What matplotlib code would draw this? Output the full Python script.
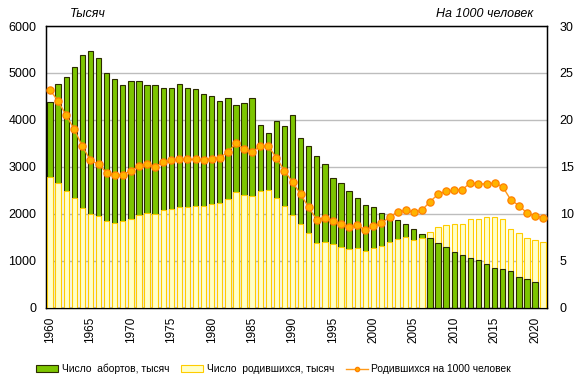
import numpy as np
import matplotlib
matplotlib.use("Agg")
import matplotlib.pyplot as plt
from matplotlib.patches import Patch
from matplotlib.lines import Line2D

plt.rcParams["font.family"] = ["Liberation Sans", "DejaVu Sans"]

years = list(range(1960, 2022))

# abortions, thousands (no value for 2021)
abortions = [4375, 4759, 4925, 5134, 5376, 5463, 5325, 5005, 4872, 4751,
             4838, 4837, 4748, 4735, 4674, 4671, 4757, 4690, 4652, 4544,
             4506, 4400, 4462, 4317, 4361, 4461, 3887, 3716, 3975, 3865,
             4103, 3608, 3437, 3244, 3061, 2766, 2652, 2498, 2346, 2181,
             2139, 2015, 1945, 1864, 1797, 1676, 1582, 1479, 1385, 1292,
             1186, 1124, 1064, 1012, 930, 848, 837, 779, 661, 621,
             553, np.nan]

# births, thousands
births = [2782, 2662, 2482, 2332, 2121, 1991, 1957, 1852, 1817, 1848,
          1904, 1974, 2015, 1995, 2079, 2107, 2146, 2157, 2179, 2178,
          2203, 2237, 2328, 2478, 2409, 2375, 2486, 2500, 2348, 2161,
          1989, 1795, 1588, 1379, 1408, 1364, 1305, 1260, 1283, 1215,
          1267, 1312, 1397, 1477, 1502, 1457, 1480, 1610, 1714, 1762,
          1789, 1797, 1902, 1896, 1943, 1940, 1889, 1690, 1604, 1485,
          1437, 1399]

# births per 1000 people
birth_rate = [23.2, 22.0, 20.5, 19.0, 17.2, 15.7, 15.3, 14.4, 14.1, 14.2,
              14.6, 15.1, 15.3, 15.0, 15.5, 15.7, 15.8, 15.8, 15.8, 15.7,
              15.9, 16.0, 16.6, 17.5, 16.9, 16.6, 17.2, 17.2, 16.0, 14.6,
              13.4, 12.1, 10.7, 9.4, 9.6, 9.3, 8.9, 8.6, 8.8, 8.3,
              8.7, 9.0, 9.7, 10.2, 10.4, 10.2, 10.4, 11.3, 12.1, 12.4,
              12.5, 12.6, 13.3, 13.2, 13.2, 13.3, 12.9, 11.5, 10.9, 10.1,
              9.8, 9.6]

green_face, green_edge = "#7DC500", "#2B2B00"
yellow_face, yellow_edge = "#FFFFC8", "#FFCC00"
line_col = "#FF9a1a"
width = 0.66

fig = plt.figure(figsize=(5.77, 3.91), dpi=100)
ax = fig.add_axes([0.0797, 0.2123, 0.8686, 0.7212])

# smaller bar of each year goes in front
for yr, a, b in zip(years, abortions, births):
    z_a, z_b = (2, 3) if (np.isnan(a) or a > b) else (3, 2)
    if not np.isnan(a):
        ax.bar(yr, a, width=width, color=green_face, edgecolor=green_edge,
               linewidth=0.8, zorder=z_a)
    ax.bar(yr, b, width=width, color=yellow_face, edgecolor=yellow_edge,
           linewidth=0.8, zorder=z_b)

ax.set_xlim(1959.5, 2021.5)
ax.set_ylim(0, 6000)
ax.set_yticks(range(0, 6001, 1000))
ax.set_xticks(range(1960, 2021, 5))
ax.set_xticklabels([str(y) for y in range(1960, 2021, 5)], rotation=90)
ax.tick_params(axis="x", length=0, pad=6, labelsize=8.5)
ax.tick_params(axis="y", length=0, pad=7, labelsize=9)
ax.grid(axis="y", color="#BDBDBD", linewidth=1, zorder=0)
ax.set_axisbelow(True)
for sp in ax.spines.values():
    sp.set_color("black")
    sp.set_linewidth(1)

ax2 = ax.twinx()
ax2.plot(years, birth_rate, color=line_col, linewidth=1, marker="o",
         markersize=5.2, markerfacecolor="#FFB300", markeredgecolor="#FF8000",
         markeredgewidth=0.9, zorder=5)
ax2.set_ylim(0, 30)
ax2.set_yticks(range(0, 31, 5))
ax2.tick_params(axis="y", length=0, pad=9, labelsize=9)

fig.text(0.121, 0.963, "Тысяч", fontsize=9, style="italic", ha="left", va="center")
fig.text(0.924, 0.963, "На 1000 человек", fontsize=9, style="italic",
         ha="right", va="center")

handles = [
    Patch(facecolor=green_face, edgecolor=green_edge, linewidth=0.8),
    Patch(facecolor=yellow_face, edgecolor=yellow_edge, linewidth=0.8),
    Line2D([0], [0], color=line_col, linewidth=1, marker="o", markersize=3,
           markerfacecolor="#FFB300", markeredgecolor="#FF8000"),
]
labels = ["Число  абортов, тысяч", "Число  родившихся, тысяч",
          "Родившихся на 1000 человек"]
fig.legend(handles, labels, loc="center", bbox_to_anchor=(0.474, 0.056),
           ncol=3, frameon=False, fontsize=7.4, handlelength=2.2,
           handleheight=0.6, handletextpad=0.3, columnspacing=1.15)

fig.savefig("out.png", dpi=100)
